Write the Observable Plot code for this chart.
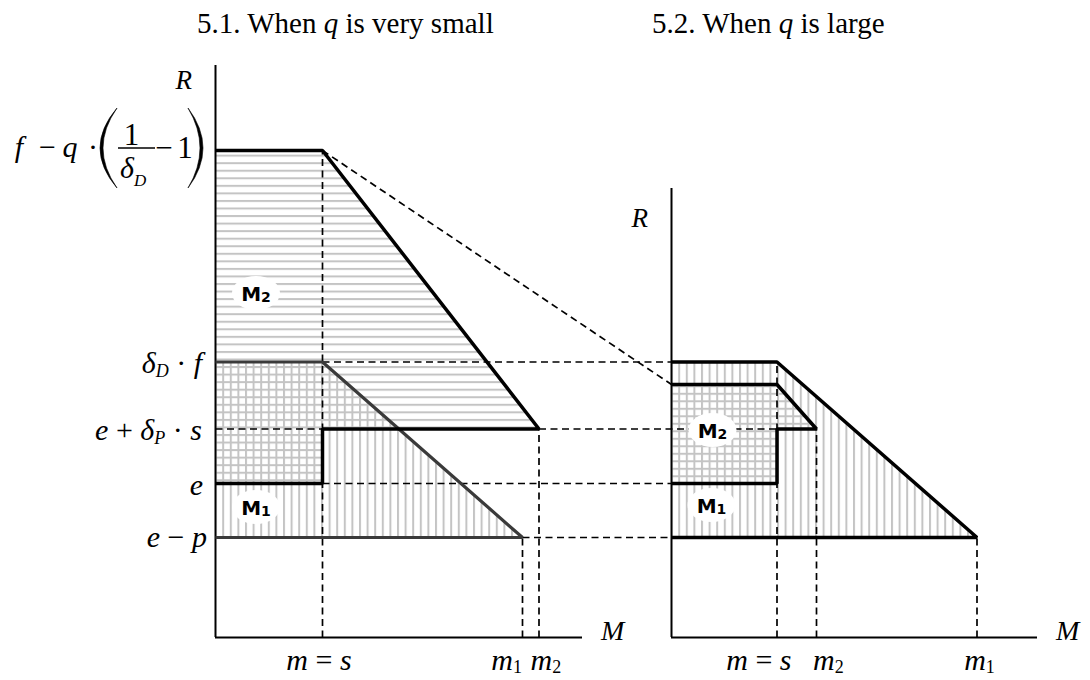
<!DOCTYPE html>
<html><head><meta charset="utf-8">
<script src="https://cdn.jsdelivr.net/npm/d3@7"></script>
<script src="https://cdn.jsdelivr.net/npm/@observablehq/plot@0.6"></script>
<style>
html,body{margin:0;padding:0;background:#fff;}
#wrap{position:relative;width:1090px;height:680px;}
.title{position:absolute;top:9px;font-family:"Liberation Serif","Times New Roman",serif;font-size:29px;line-height:29px;color:#000;white-space:nowrap;}
</style></head>
<body><div id="wrap">
<div class="title" style="left:197px">5.1. When <i>q</i> is very small</div>
<div class="title" style="left:652px">5.2. When <i>q</i> is large</div>
</div>
<script>
// ---- values (R = vertical, M = horizontal) ----
const rLevelNames = ["e − p", "e", "e + δP · s", "δD · f", "f − q · (1/δD − 1)"];
const rLevels = [2.0, 3.08, 4.17, 5.51, 9.74];
const rightM2Plateau = 5.06;          // top of M2 in panel 5.2
const leftMNames = ["m = s", "m1", "m2"];
const leftM = [1.07, 3.07, 3.235];
const rightMNames = ["m = s", "m2", "m1"];
const rightM = [1.055, 1.45, 3.055];
const panelNames = ["5.1", "5.2"];
const panelOffset = [0, 4.56];        // where each panel's M axis starts
const axisLengthM = [3.67, 3.66];
const axisHeightR = [11.44, 8.98];
const rLabelAt = [10.96, 8.2];        // baseline of the "R" axis titles
const regionLabels = [
  {name: "M", sub: "2", panel: 0, m: 0.41, r: 6.88},
  {name: "M", sub: "1", panel: 0, m: 0.41, r: 2.6},
  {name: "M", sub: "2", panel: 1, m: 0.415, r: 4.14},
  {name: "M", sub: "1", panel: 1, m: 0.405, r: 2.64}
];

(function () {
// ---- derived geometry ----
const [ep, e, eds, ddf, rTop] = rLevels;
const [sL, m1L, m2L] = leftM;
const o = panelOffset[1];
const sR = o + rightM[0], m2R = o + rightM[1], m1R = o + rightM[2];

const m2Left  = [[0, rTop], [sL, rTop], [m2L, eds], [sL, eds], [sL, e], [0, e]];
const m1Left  = [[0, ddf], [sL, ddf], [m1L, ep], [0, ep]];
const m1Right = [[o, ddf], [sR, ddf], [m1R, ep], [o, ep]];
const m2Right = [[o, rightM2Plateau], [sR, rightM2Plateau], [m2R, eds], [sR, eds], [sR, e], [o, e]];

const dashed = [
  {x1: sL, y1: 0, x2: sL, y2: rTop},
  {x1: m1L, y1: 0, x2: m1L, y2: ep},
  {x1: m2L, y1: 0, x2: m2L, y2: eds},
  {x1: 0, y1: eds, x2: sL, y2: eds},
  {x1: m2L, y1: eds, x2: sR, y2: eds},
  {x1: sL, y1: e, x2: o, y2: e},
  {x1: m1L, y1: ep, x2: o, y2: ep},
  {x1: sL, y1: ddf, x2: o, y2: ddf},
  {x1: sL, y1: rTop, x2: o, y2: rightM2Plateau},
  {x1: sR, y1: 0, x2: sR, y2: ddf},
  {x1: m2R, y1: 0, x2: m2R, y2: eds},
  {x1: m1R, y1: 0, x2: m1R, y2: ep}
];
const yAxes = panelOffset.map((p, i) => ({x: p, y1: 0, y2: axisHeightR[i]}));
const xAxes = panelOffset.map((p, i) => ({y: 0, x1: p, x2: p + axisLengthM[i]}));

const chart = Plot.plot({
  width: 1090, height: 680,
  marginLeft: 215, marginRight: 0, marginTop: 0, marginBottom: 43,
  x: {domain: [0, 8.75], axis: null},
  y: {domain: [0, 12.74], axis: null},
  style: {background: "transparent", overflow: "visible"},
  marks: [
    Plot.line(m2Left,  {fill: "url(#hatchH)", stroke: "none"}),
    Plot.line(m1Left,  {fill: "url(#hatchV)", stroke: "none"}),
    Plot.line(m1Right, {fill: "url(#hatchV)", stroke: "none"}),
    Plot.line(m2Right, {fill: "url(#hatchH2)", stroke: "none"}),
    Plot.link(dashed, {x1: "x1", y1: "y1", x2: "x2", y2: "y2", stroke: "black", strokeWidth: 1.7, strokeDasharray: "7,4.5"}),
    Plot.ruleX(yAxes, {x: "x", y1: "y1", y2: "y2", stroke: "black", strokeWidth: 2}),
    Plot.ruleY(xAxes, {y: "y", x1: "x1", x2: "x2", stroke: "black", strokeWidth: 2}),
    Plot.line(m1Left,  {stroke: "#3a3a3a", strokeWidth: 3.2, strokeLinejoin: "miter", strokeLinecap: "butt"}),
    Plot.line(m2Left,  {stroke: "black", strokeWidth: 3.5, strokeLinejoin: "miter", strokeLinecap: "butt"}),
    Plot.line(m1Right, {stroke: "black", strokeWidth: 3.5, strokeLinejoin: "miter", strokeLinecap: "butt"}),
    Plot.line(m2Right, {stroke: "black", strokeWidth: 3.5, strokeLinejoin: "miter", strokeLinecap: "butt"})
  ]
});
document.getElementById("wrap").prepend(chart);
chart.style.position = "absolute"; chart.style.left = "0px"; chart.style.top = "0px";

const svg = d3.select(chart);
const sx = chart.scale("x"), sy = chart.scale("y");
const X = v => sx.apply(v), Y = v => sy.apply(v);

// hatch patterns
const defs = svg.insert("defs", ":first-child");
function pattern(id, vertical, phase, step) {
  const p = defs.append("pattern").attr("id", id).attr("patternUnits", "userSpaceOnUse");
  if (vertical) {
    p.attr("width", step).attr("height", 10).attr("x", phase);
    p.append("rect").attr("x", 0).attr("y", 0).attr("width", 2).attr("height", 10).attr("fill", "#c4c4c4");
  } else {
    p.attr("width", 10).attr("height", step).attr("y", phase);
    p.append("rect").attr("x", 0).attr("y", 0).attr("width", 10).attr("height", 2).attr("fill", "#c4c4c4");
  }
}
pattern("hatchV", true, X(0) + 6.7, 7.6);
pattern("hatchH", false, Y(rTop) + 11.7, 7.55);
pattern("hatchH2", false, Y(rightM2Plateau) + 8.3, 7.5);

const serif = '"Liberation Serif","Times New Roman",serif';
const g = svg.append("g");
function rich(x, y, parts, anchor = "start", size = 30) {
  const t = g.append("text").attr("x", x).attr("y", y).attr("text-anchor", anchor)
    .attr("font-family", serif).attr("font-size", size).attr("fill", "black")
    .style("white-space", "pre");
  let shifted = 0;
  for (const p of parts) {
    const ts = t.append("tspan").text(p.t);
    if (p.i) ts.attr("font-style", "italic");
    const want = p.sub ? (p.dy ?? 5) : 0;
    if (want !== shifted) { ts.attr("dy", want - shifted); shifted = want; }
    if (p.sub) ts.attr("font-size", p.size ?? 18);
  }
  return t;
}
const ax = X(0);
// R tick labels
rich(ax - 13, Y(ddf) + 11, [{t: "δ", i: 1}, {t: "D", i: 1, sub: 1, dy: 4}, {t: " · "}, {t: "f", i: 1}], "end");
rich(ax - 13, Y(eds) + 11, [{t: "e", i: 1}, {t: " + "}, {t: "δ", i: 1}, {t: "P", i: 1, sub: 1, dy: 4}, {t: " · "}, {t: "s", i: 1}], "end");
rich(ax - 12, Y(e) + 12, [{t: "e", i: 1}], "end");
rich(ax - 8, Y(ep) + 10, [{t: "e", i: 1}, {t: " − "}, {t: "p", i: 1}], "end");

// f − q · (1/δD − 1)
const yc = Y(rTop);
rich(ax - 196, yc + 7, [{t: "f", i: 1}], "middle");
rich(ax - 167.5, yc + 7, [{t: "−"}], "middle");
rich(ax - 145, yc + 7, [{t: "q", i: 1}], "middle");
rich(ax - 122, yc + 7, [{t: "·"}], "middle");
rich(ax - 83.5, yc - 5, [{t: "1"}], "middle", 31);
g.append("line").attr("x1", ax - 97).attr("x2", ax - 60).attr("y1", yc - 2).attr("y2", yc - 2).attr("stroke", "black").attr("stroke-width", 1.4);
rich(ax - 95, yc + 28, [{t: "δ", i: 1}, {t: "D", i: 1, sub: 1, dy: 8, size: 17}], "start");
rich(ax - 51, yc + 8, [{t: "−"}], "middle", 31);
rich(ax - 30, yc + 8, [{t: "1"}], "middle", 31);
const mid = yc - 2, pt = yc - 42, pb = yc + 38;
g.append("path").attr("d", `M${ax-98},${pt} Q${ax-132},${mid} ${ax-98},${pb} Q${ax-126},${mid} ${ax-98},${pt} Z`)
  .attr("fill", "black").attr("stroke", "black").attr("stroke-width", 0.6);
g.append("path").attr("d", `M${ax-27},${pt} Q${ax+3},${mid} ${ax-27},${pb} Q${ax-3},${mid} ${ax-27},${pt} Z`)
  .attr("fill", "black").attr("stroke", "black").attr("stroke-width", 0.6);

// M tick labels
const yb = Y(0) + 33;
rich(X(sL) - 3, yb, [{t: "m", i: 1}, {t: " = "}, {t: "s", i: 1}], "middle");
rich(X(m1L), yb, [{t: "m", i: 1}, {t: "1", sub: 1, dy: 3, size: 18}], "end");
rich(X(m2L) - 8, yb, [{t: "m", i: 1}, {t: "2", sub: 1, dy: 3, size: 18}], "start");
rich(X(sR) + 15, yb, [{t: "m", i: 1}, {t: " = "}, {t: "s", i: 1}], "end");
rich(X(m2R) - 3, yb, [{t: "m", i: 1}, {t: "2", sub: 1, dy: 3, size: 18}], "start");
rich(X(m1R) + 3, yb, [{t: "m", i: 1}, {t: "1", sub: 1, dy: 3, size: 18}], "middle");

// axis titles
panelOffset.forEach((p, i) => {
  rich(X(p) - 23, Y(rLabelAt[i]), [{t: "R", i: 1}], "end", 27);
  rich(X(p + axisLengthM[i]) + 19, Y(0) + 3, [{t: "M", i: 1}], "start", 28);
});

// region labels
for (const d of regionLabels) {
  const cx = X(panelOffset[d.panel] + d.m), cy = Y(d.r);
  g.append("ellipse").attr("cx", cx).attr("cy", cy).attr("rx", 24).attr("ry", 17).attr("fill", "white");
  const t = g.append("text").attr("x", cx).attr("y", cy + 8).attr("text-anchor", "middle")
    .attr("font-family", '"DejaVu Sans",Verdana,sans-serif').attr("font-weight", "bold").attr("font-size", 20);
  t.append("tspan").text(d.name);
  t.append("tspan").text(d.sub).attr("font-size", 14).attr("dy", 1);
}
})();
</script>
</body></html>
